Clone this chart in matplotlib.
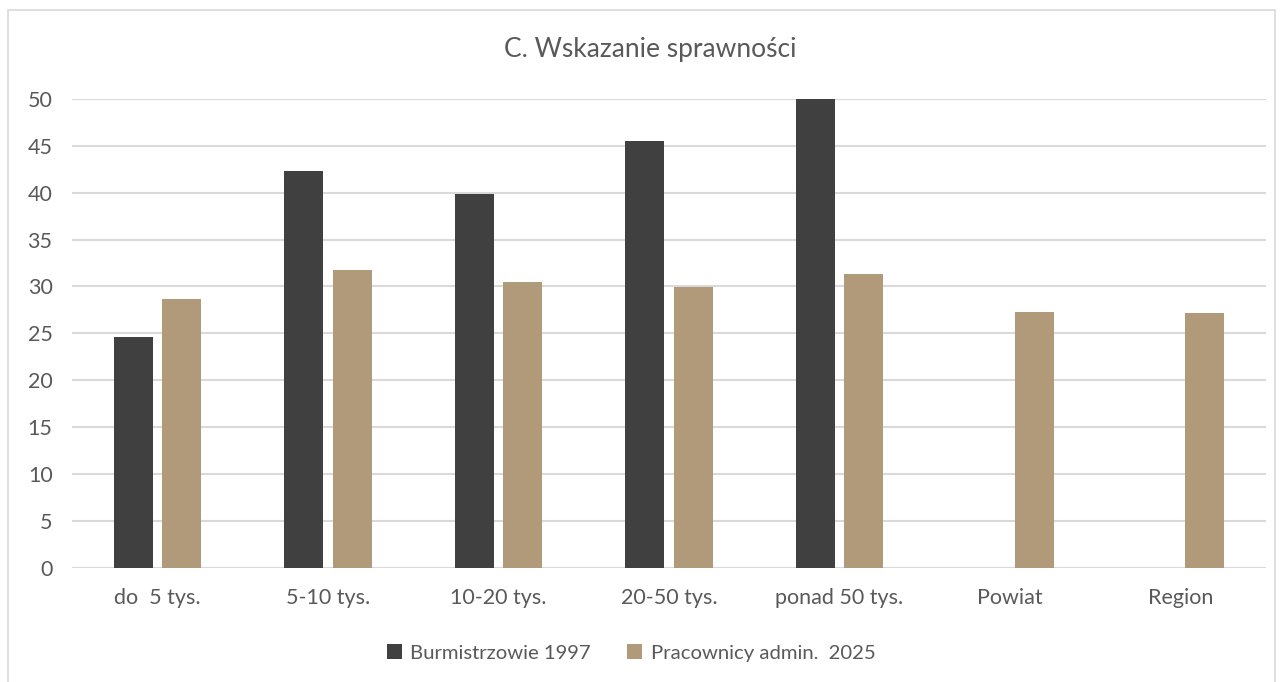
import matplotlib.pyplot as plt
import numpy as np
from matplotlib.patches import Rectangle

kategorie = ['do  5 tys.', '5-10 tys.', '10-20 tys.', '20-50 tys.', 'ponad 50 tys.', 'Powiat', 'Region']
burmistrzowie_1997 = [24.6, 42.3, 39.9, 45.5, 50.0, None, None]
pracownicy_2025 = [28.7, 31.7, 30.5, 29.9, 31.3, 27.3, 27.2]
y_ticks = [0, 5, 10, 15, 20, 25, 30, 35, 40, 45, 50]

plt.rcParams['font.family'] = ['Lato', 'DejaVu Sans']
txt = '#595959'

fig = plt.figure(figsize=(12.84, 6.82), dpi=100)
ax = fig.add_axes([72/1284, 1-567.5/682, (1266-72)/1284, (567.5-99)/682])

# ramka wykresu
fig.patches.append(Rectangle((8/1284, -0.01), 1267/1284, 1-10/682+0.01,
                             transform=fig.transFigure, fill=False,
                             edgecolor='#d9d9d9', linewidth=1.2))

x = np.arange(len(kategorie))
w = 0.228
off = 0.142
b_x = [xi - off for xi, v in zip(x, burmistrzowie_1997) if v is not None]
b_v = [v for v in burmistrzowie_1997 if v is not None]
ax.bar(b_x, b_v, width=w, color='#404040', label='Burmistrzowie 1997', zorder=3)
ax.bar(x + off, pracownicy_2025, width=w, color='#b09a7a', label='Pracownicy admin.  2025', zorder=3)

ax.set_xlim(-0.5, len(kategorie) - 0.5)
ax.set_ylim(0, 50)
ax.set_yticks(y_ticks)
ax.set_xticks(x)
ax.set_xticklabels(kategorie)
ax.grid(axis='y', color='#d9d9d9', linewidth=1.5, zorder=0)
ax.tick_params(axis='both', length=0, labelsize=15.5, labelcolor=txt)
ax.tick_params(axis='x', pad=15)
ax.tick_params(axis='y', pad=14)
for s in ax.spines.values():
    s.set_visible(False)

fig.text(650/1284, 1-50/682, 'C. Wskazanie sprawności', ha='center', va='center',
         fontsize=19, color=txt)

ax.legend(loc='center', bbox_to_anchor=(631/1284, 1-653/682), bbox_transform=fig.transFigure,
          ncol=2, frameon=False, fontsize=14.6, labelcolor=txt,
          handlelength=0.75, handleheight=0.75, handletextpad=0.4, columnspacing=1.8)

plt.savefig('out.png', dpi=100)
